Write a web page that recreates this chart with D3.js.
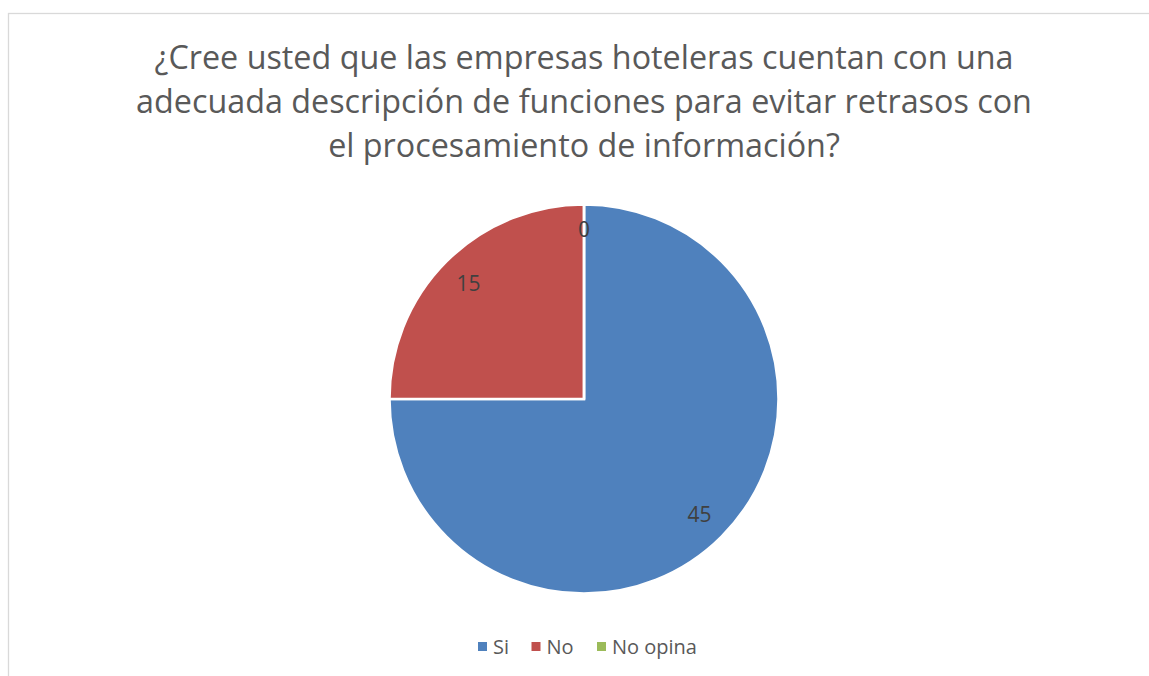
<!DOCTYPE html>
<html>
<head>
<meta charset="utf-8">
<script src="https://cdn.jsdelivr.net/npm/d3@7"></script>
<style>
  body { margin: 0; background: #fff; }
  svg { display: block; }
</style>
</head>
<body>
<div id="chart"></div>
<script>
// data
var categories = ["Si", "No", "No opina"];
var values = [45, 15, 0];
var colors = ["#4F81BD", "#C0504D", "#9BBB59"];
var titleLines = [
  "¿Cree usted que las empresas hoteleras cuentan con una",
  "adecuada descripción de funciones para evitar retrasos con",
  "el procesamiento de información?"
];

var W = 1149, H = 676;
var font = "Open Sans, Noto Sans, sans-serif";

var svg = d3.select("#chart").append("svg")
  .attr("width", W).attr("height", H);

// chart area border (runs off the right and bottom edges)
svg.append("rect")
  .attr("x", 8.5).attr("y", 13.5)
  .attr("width", 1200).attr("height", 700)
  .attr("fill", "#fff")
  .attr("stroke", "#d9d9d9")
  .attr("stroke-width", 1.3);

// title
var titleBase = [69, 113, 157];
var titleWidth = [861, 896, 516];
var title = svg.append("g");
title.selectAll("text")
  .data(titleLines)
  .join("text")
    .attr("x", 584)
    .attr("y", (d, i) => titleBase[i])
    .attr("text-anchor", "middle")
    .style("font-family", font)
    .style("font-size", "30px")
    .style("fill", "#595959")
    .text(d => d);
// shrink/grow font so the lines span roughly what the original does
var t2 = title.selectAll("text").nodes()[1];
var fs = 30 * titleWidth[1] / t2.getComputedTextLength();
title.selectAll("text").style("font-size", fs + "px");

// pie
var cx = 584, cy = 399, r = 194.5;
var pie = d3.pie().sort(null).value(d => d.v);
var arcs = pie(categories.map((c, i) => ({ c: c, v: values[i], col: colors[i] })));
var arc = d3.arc().innerRadius(0).outerRadius(r);
var labelArc = d3.arc().innerRadius(r * 0.84).outerRadius(r * 0.84);

var g = svg.append("g").attr("transform", "translate(" + cx + "," + cy + ")");
g.selectAll("path")
  .data(arcs)
  .join("path")
    .attr("d", arc)
    .attr("fill", d => d.data.col)
    .attr("stroke", "#fff")
    .attr("stroke-width", 2.5);

g.selectAll("text.lbl")
  .data(arcs)
  .join("text")
    .attr("class", "lbl")
    .attr("transform", d => "translate(" + labelArc.centroid(d) + ")")
    .attr("text-anchor", "middle")
    .attr("dy", d => d.data.v === 0 ? "0.05em" : "0.35em")
    .style("font-family", font)
    .style("font-size", "21px")
    .style("fill", "#404040")
    .text(d => d.data.v);

// legend
var legX = [478, 531.5, 597];
var leg = svg.append("g");
var item = leg.selectAll("g")
  .data(categories)
  .join("g")
    .attr("transform", (d, i) => "translate(" + legX[i] + ",642)");
item.append("rect")
  .attr("width", 9).attr("height", 9)
  .attr("fill", (d, i) => colors[i]);
item.append("text")
  .attr("x", 15).attr("y", 11.5)
  .style("font-family", font)
  .style("font-size", "20px")
  .style("fill", "#595959")
  .text(d => d);
</script>
</body>
</html>
